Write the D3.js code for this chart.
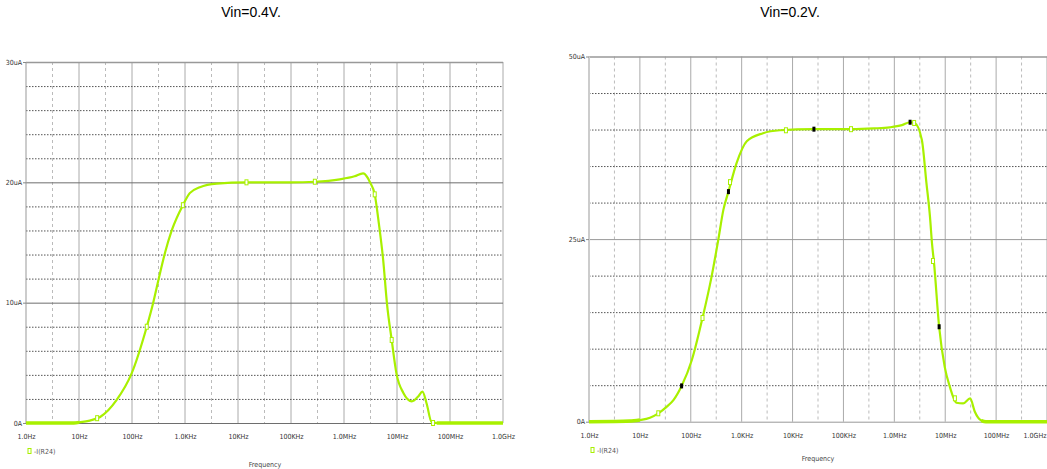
<!DOCTYPE html>
<html>
<head>
<meta charset="utf-8">
<script src="https://cdn.jsdelivr.net/npm/d3@7"></script>
<style>
  body { margin: 0; background: #fff; }
  svg { display: block; }
  .tick-label { font-family: "DejaVu Sans Condensed", "Liberation Sans Narrow", sans-serif; font-stretch: condensed; font-size: 7px; fill: #333; }
  .title { font-family: Arial, "Liberation Sans", sans-serif; font-size: 14px; fill: #000; }
</style>
</head>
<body>
<svg id="chart" width="1047" height="469"></svg>
<script>
// x axis (shared by both panels)
const freqTicks = [1, 10, 100, 1e3, 1e4, 1e5, 1e6, 1e7, 1e8, 1e9];
const freqLabels = ["1.0Hz", "10Hz", "100Hz", "1.0KHz", "10KHz", "100KHz", "1.0MHz", "10MHz", "100MHz", "1.0GHz"];

// Vin=0.4V, -I(R24) in uA
const leftFreq = [1, 3.2, 8, 10, 16, 25, 51, 98, 190, 250, 316, 417, 562, 912, 1230, 1905, 3981, 14454,
  1e5, 2.82e5, 8.32e5, 1.58e6, 2.29e6, 2.82e6, 3.09e6, 3.8e6, 4.57e6, 5.5e6, 6.46e6, 7.94e6, 9.77e6,
  1.32e7, 1.91e7, 2.51e7, 3.02e7, 3.63e7, 4.47e7, 5.6e7, 1e9];
const leftCurrent = [0, 0, 0, 0.05, 0.2, 0.5, 1.9, 4.1, 8.0, 9.95, 11.9, 14.1, 16.0, 18.1, 19.1, 19.6, 19.9, 20.0,
  20.0, 20.05, 20.25, 20.5, 20.75, 20.35, 20.0, 19.0, 16.5, 13.5, 9.95, 6.9, 4.1,
  2.5, 1.8, 2.2, 2.6, 1.6, 0.1, 0, 0];
const leftMarkFreq = [22, 190, 912, 14454, 2.82e5, 3.8e6, 7.94e6, 4.79e7];
const leftMarkCurrent = [0.4, 8.0, 18.1, 20.0, 20.05, 19.0, 6.9, 0];
const leftYTicks = [0, 10, 20, 30];
const leftYLabels = ["0A", "10uA", "20uA", "30uA"];

// Vin=0.2V, -I(R24) in uA
const rightFreq = [1, 3.2, 6.3, 10, 15.8, 23, 33, 46, 66, 105, 170, 257, 347, 437, 550, 794, 1259, 2630, 5623,
  26300, 1.41e5, 3.98e5, 8.13e5, 1.41e6, 2.04e6, 2.51e6, 3.47e6, 4.27e6, 5.01e6, 5.5e6, 6.03e6, 7.59e6,
  9.77e6, 1.23e7, 1.66e7, 2.24e7, 3.09e7, 3.8e7, 5.13e7, 6.3e7, 1e9];
const rightCurrent = [0, 0.02, 0.08, 0.23, 0.55, 1.15, 2.0, 3.0, 4.9, 8.45, 14.2, 19.9, 24.9, 29.0, 31.5, 35.4, 38.4, 39.5, 39.9,
  40.05, 40.05, 40.15, 40.3, 40.6, 41.0, 40.9, 38.6, 32.7, 28.1, 24.4, 21.7, 13.0,
  7.5, 4.8, 2.6, 2.5, 3.2, 1.4, 0.15, 0, 0];
const rightMarkFreq = [23, 170, 590, 7413, 1.41e5, 2.45e6, 5.75e6, 1.55e7];
const rightMarkCurrent = [1.15, 14.2, 32.8, 39.9, 40.05, 40.9, 22.0, 3.2];
const rightCursorFreq = [66, 550, 26300, 2.04e6, 7.59e6];
const rightCursorCurrent = [4.9, 31.5, 40.05, 41.0, 13.0];
const rightYTicks = [0, 25, 50];
const rightYLabels = ["0A", "25uA", "50uA"];

const green = "#a8f000";
const svg = d3.select("#chart");

function drawPanel(p) {
  const x = d3.scaleLog().domain([1, 1e9]).range([p.left, p.right]);
  const y = d3.scaleLinear().domain([0, p.yMax]).range([p.bottom, p.top]);
  const g = svg.append("g");

  // dashed vertical half-decade lines
  const halfTicks = freqTicks.slice(0, -1).map(d => d * Math.sqrt(10));
  g.selectAll(".vminor").data(halfTicks).join("line")
    .attr("x1", d => x(d)).attr("x2", d => x(d))
    .attr("y1", p.top).attr("y2", p.bottom)
    .attr("stroke", "#bbb").attr("stroke-dasharray", "3,3");

  // solid vertical decade lines
  g.selectAll(".vmajor").data(freqTicks.slice(1)).join("line")
    .attr("x1", d => x(d)).attr("x2", d => x(d))
    .attr("y1", p.top).attr("y2", p.bottom)
    .attr("stroke", "#aaa");

  // dotted horizontal minor lines
  const minor = d3.range(p.minorStep, p.yMax, p.minorStep).filter(v => !p.yTicks.includes(v));
  g.selectAll(".hminor").data(minor).join("line")
    .attr("x1", p.left).attr("x2", p.right)
    .attr("y1", d => y(d) + 0.5).attr("y2", d => y(d) + 0.5)
    .attr("stroke", "#555").attr("stroke-dasharray", "1.5,1.5");

  // major horizontal lines
  g.selectAll(".hmajor").data(p.yTicks).join("line")
    .attr("x1", p.left).attr("x2", p.right)
    .attr("y1", d => y(d) + 0.5).attr("y2", d => y(d) + 0.5)
    .attr("stroke", d => d === p.yMax ? "#999" : p.majorColor)
    .attr("stroke-width", d => d === p.yMax ? 1.5 : 1);

  // left axis line
  g.append("line")
    .attr("x1", p.left).attr("x2", p.left)
    .attr("y1", p.top).attr("y2", p.bottom)
    .attr("stroke", p.axisColor).attr("stroke-width", p.axisWidth);

  // y tick labels
  const yAxis = d3.axisLeft(y).tickValues(p.yTicks).tickFormat((d, i) => p.yLabels[i]).tickSize(3);
  const ya = g.append("g").attr("transform", `translate(${p.left},0)`).call(yAxis);
  ya.select(".domain").remove();
  ya.selectAll(".tick line").attr("stroke", "#888");
  ya.selectAll(".tick text").attr("class", "tick-label").attr("dy", "0.32em").attr("x", -4);

  // x tick labels
  const xAxis = d3.axisBottom(x).tickValues(freqTicks).tickFormat((d, i) => freqLabels[i]).tickSize(0);
  const xa = g.append("g").attr("transform", `translate(0,${p.bottom})`).call(xAxis);
  xa.select(".domain").remove();
  xa.selectAll(".tick text").attr("class", "tick-label").attr("y", 16).attr("dy", 0)
    .attr("text-anchor", (d, i) => (p.clipLast && i === freqTicks.length - 1) ? "end" : "middle")
    .attr("x", (d, i) => (p.clipLast && i === freqTicks.length - 1) ? -1 : 0);

  // curve
  const pts = p.freq.map((f, i) => [f, p.cur[i]]);
  const line = d3.line().x(d => x(d[0])).y(d => y(d[1])).curve(d3.curveMonotoneX);
  g.append("path").datum(pts)
    .attr("d", line).attr("fill", "none")
    .attr("stroke", green).attr("stroke-width", 2.2);
  // thicker flat start / end
  g.append("path").datum(pts.filter(d => d[0] <= 10))
    .attr("d", line).attr("fill", "none")
    .attr("stroke", green).attr("stroke-width", 3.5);
  g.append("path").datum(pts.filter(d => d[0] >= 5e7))
    .attr("d", line).attr("fill", "none")
    .attr("stroke", green).attr("stroke-width", 3.5);

  // hollow markers
  g.selectAll(".mark").data(p.markF.map((f, i) => [f, p.markC[i]])).join("rect")
    .attr("x", d => x(d[0]) - 1.5).attr("y", d => y(d[1]) - 2.5)
    .attr("width", 3).attr("height", 5)
    .attr("fill", "#fff").attr("stroke", green).attr("stroke-width", 1);

  // cursor markers
  if (p.cursF) {
    g.selectAll(".cursor").data(p.cursF.map((f, i) => [f, p.cursC[i]])).join("rect")
      .attr("x", d => x(d[0]) - 1.5).attr("y", d => y(d[1]) - 2.5)
      .attr("width", 3).attr("height", 5).attr("fill", "#000");
  }

  // legend
  g.append("rect").attr("x", p.left + 2).attr("y", p.legendY - 3)
    .attr("width", 3).attr("height", 5)
    .attr("fill", "none").attr("stroke", green);
  g.append("text").attr("class", "tick-label")
    .attr("x", p.left + 8).attr("y", p.legendY + 2.5).text("-I(R24)").style("fill", "#555");

  // x axis title
  g.append("text").attr("class", "tick-label")
    .attr("x", p.freqX).attr("y", p.freqY).attr("text-anchor", "middle").text("Frequency").style("fill", "#444");

  // panel title
  svg.append("text").attr("class", "title")
    .attr("x", p.titleX).attr("y", 17).attr("text-anchor", "middle").text(p.title);
}

drawPanel({
  left: 26, right: 503, top: 62, bottom: 423, yMax: 30, minorStep: 2,
  yTicks: leftYTicks, yLabels: leftYLabels, majorColor: "#6e6e6e",
  axisColor: "#999", axisWidth: 1, clipLast: false,
  freq: leftFreq, cur: leftCurrent, markF: leftMarkFreq, markC: leftMarkCurrent,
  legendY: 451.5, freqX: 265, freqY: 467, titleX: 251, title: "Vin=0.4V."
});

drawPanel({
  left: 589, right: 1047, top: 56.5, bottom: 421.7, yMax: 50, minorStep: 5,
  yTicks: rightYTicks, yLabels: rightYLabels, majorColor: "#999",
  axisColor: "#ccc", axisWidth: 2, clipLast: true,
  freq: rightFreq, cur: rightCurrent, markF: rightMarkFreq, markC: rightMarkCurrent,
  cursF: rightCursorFreq, cursC: rightCursorCurrent,
  legendY: 450.5, freqX: 818, freqY: 461, titleX: 790, title: "Vin=0.2V."
});
</script>
</body>
</html>
